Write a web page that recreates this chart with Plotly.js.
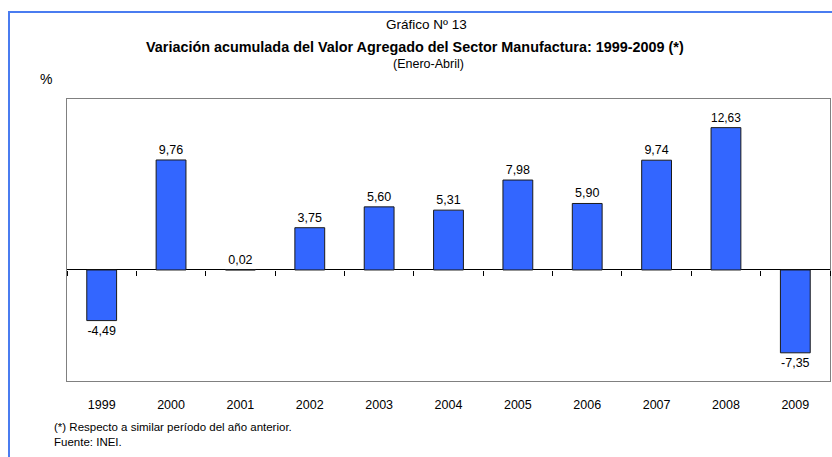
<!DOCTYPE html>
<html><head><meta charset="utf-8">
<script src="https://cdn.plot.ly/plotly-3.0.1.min.js"></script>
<style>html,body{margin:0;padding:0;background:#fff;}#chart{width:832px;height:457px;}</style>
</head><body><div id="chart"></div>
<script>
const years = ['1999','2000','2001','2002','2003','2004','2005','2006','2007','2008','2009'];
const values = [-4.49, 9.76, 0.02, 3.75, 5.60, 5.31, 7.98, 5.90, 9.74, 12.63, -7.35];
const boundaries = [-0.5,0.5,1.5,2.5,3.5,4.5,5.5,6.5,7.5,8.5,9.5,10.5];

const W = 832, H = 457;
const M = {l: 67, r: 2, t: 99, b: 76};
const PW = W - M.l - M.r, PH = H - M.t - M.b;
const px = x => (x - M.l) / PW;
const py = y => (H - M.b - y) / PH;
const yRange = [-9.85, 15.17];
const zeroPos = (0 - yRange[0]) / (yRange[1] - yRange[0]);
const font = 'Liberation Sans, Arial, sans-serif';

const trace = {
  type: 'bar', x: years, y: values,
  marker: {color: '#3366FF', line: {color: '#1a1a1a', width: 1}},
  texttemplate: '%{y:.2f}', textposition: 'outside', cliponaxis: false,
  textfont: {family: font, size: 12.5, color: '#000'},
  hoverinfo: 'none'
};

const ann = (x, y, text, size, opts) => Object.assign({
  xref: 'paper', yref: 'paper', x: px(x), y: py(y), text: text, showarrow: false,
  font: {family: font, size: size, color: '#000'}, xanchor: 'center', yanchor: 'middle'
}, opts || {});

const layout = {
  width: W, height: H, margin: M, paper_bgcolor: '#fff', plot_bgcolor: '#fff',
  separators: ',.', showlegend: false, bargap: 0.57,
  font: {family: font, size: 12, color: '#000'},
  xaxis: {type: 'category', showgrid: false, showline: true, mirror: true, linecolor: '#808080', linewidth: 1,
    ticks: 'outside', ticklen: 12, tickcolor: 'rgba(0,0,0,0)', tickfont: {family: font, size: 12.5, color: '#000'}},
  xaxis2: {overlaying: 'x', anchor: 'free', position: zeroPos, type: 'linear', range: [-0.5, 10.5],
    tickmode: 'array', tickvals: boundaries, ticks: 'outside', ticklen: 5, tickcolor: '#000', tickwidth: 1,
    showticklabels: false, showgrid: false, showline: false, zeroline: false},
  yaxis: {range: yRange, showgrid: false, showticklabels: false, ticks: '', showline: true, mirror: true,
    linecolor: '#808080', linewidth: 1, zeroline: true, zerolinecolor: '#000', zerolinewidth: 1},
  annotations: [
    ann(426, 25, 'Gráfico Nº 13', 13.5),
    ann(415, 47, '<b>Variación acumulada del Valor Agregado del Sector Manufactura: 1999-2009 (*)</b>', 14.4),
    ann(428, 64, '(Enero-Abril)', 12.5),
    ann(38, 79, '%', 14, {xanchor: 'left'}),
    ann(52, 427, '(*) Respecto a similar período del año anterior.', 11.5, {xanchor: 'left'}),
    ann(52, 442, 'Fuente: INEI.', 11.5, {xanchor: 'left'})
  ],
  shapes: [
    {type: 'line', xref: 'paper', yref: 'paper', x0: px(8), x1: px(832), y0: py(12), y1: py(12), line: {color: '#4a7cf0', width: 2}},
    {type: 'line', xref: 'paper', yref: 'paper', x0: px(9), x1: px(9), y0: py(12), y1: py(457), line: {color: '#4a7cf0', width: 2}}
  ]
};

Plotly.newPlot('chart', [trace, {type: 'scatter', x: [], y: [], xaxis: 'x2', hoverinfo: 'none'}], layout, {staticPlot: true});
</script></body></html>
